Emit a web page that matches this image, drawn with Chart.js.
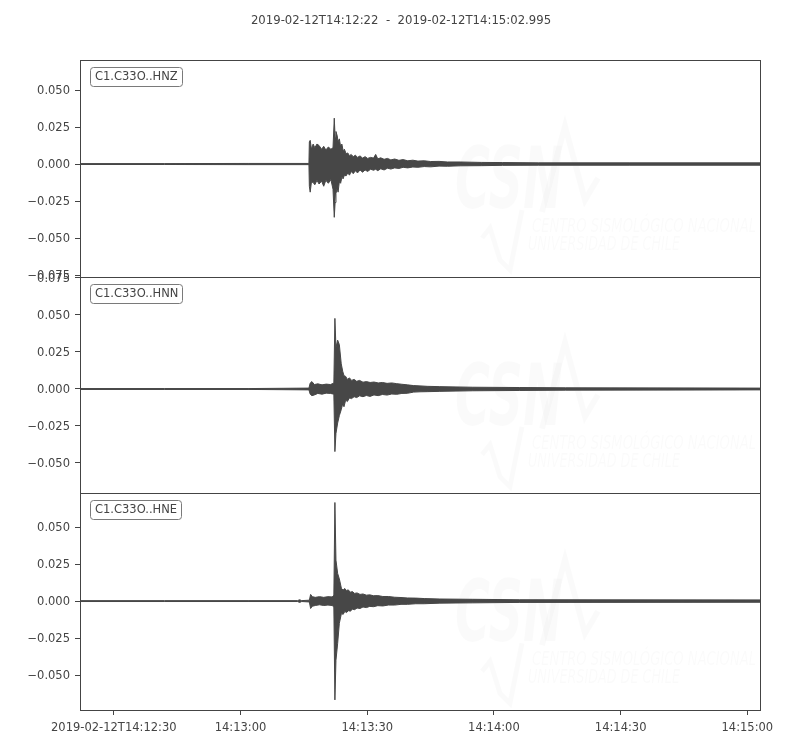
<!DOCTYPE html>
<html><head><meta charset="utf-8">
<script src="https://cdn.jsdelivr.net/npm/chart.js@4/dist/chart.umd.min.js"></script>
<style>html,body{margin:0;padding:0;background:#fff}#wrap{width:800px;height:750px;position:relative}</style>
</head><body><div id="wrap"><canvas id="c" width="800" height="750"></canvas></div>
<script>
// ---- text ----
const titleText = '2019-02-12T14:12:22  -  2019-02-12T14:15:02.995';
const traceNames = ['C1.C33O..HNZ', 'C1.C33O..HNN', 'C1.C33O..HNE'];

// ---- x axis (seconds after 2019-02-12T14:12:22) ----
const timeMin = 0;
const timeMax = 160.995;
const xTickValues = [8, 38, 68, 98, 128, 158];
const xTickLabels = ['2019-02-12T14:12:30', '14:13:00', '14:13:30', '14:14:00', '14:14:30', '14:15:00'];

// ---- y axes ----
const yTicksHNZ = [-0.075, -0.05, -0.025, 0, 0.025, 0.05];
const yTicksHNN = [-0.05, -0.025, 0, 0.025, 0.05, 0.075];
const yTicksHNE = [-0.05, -0.025, 0, 0.025, 0.05];
const yRangeHNZ = [-0.0761, 0.0703];
const yRangeHNN = [-0.0705, 0.0759];
const yRangeHNE = [-0.0736, 0.0728];

// ---- HNZ envelope ----
const hnzTime  = [0, 20, 40, 54.2, 54.3, 54.5, 54.8, 55.2, 55.6, 56.1, 56.6, 57.2, 57.7, 58.2, 58.8, 59.4, 59.9, 60.2, 60.4, 60.6, 60.9, 61.1, 61.4, 61.7, 62.0, 62.3, 62.6, 63.0, 63.4, 63.8, 64.2, 64.7, 65.2, 65.7, 66.3, 66.9, 67.5, 68.1, 68.8, 69.5, 70.0, 70.5, 71.2, 72.0, 72.8, 73.6, 74.5, 75.5, 76.5, 77.6, 78.8, 80.0, 81.5, 83.0, 85.0, 87.0, 90.0, 95.0, 100.0, 108.5, 130, 160.995];
const hnzUpper = [0.0003, 0.0003, 0.0004, 0.0004, 0.0150, 0.0160, 0.0100, 0.0135, 0.0110, 0.0135, 0.0125, 0.0100, 0.0120, 0.0095, 0.0115, 0.0100, 0.0110, 0.0310, 0.0180, 0.0220, 0.0190, 0.0150, 0.0170, 0.0120, 0.0135, 0.0090, 0.0100, 0.0070, 0.0075, 0.0055, 0.0065, 0.0050, 0.0060, 0.0045, 0.0055, 0.0040, 0.0050, 0.0038, 0.0045, 0.0040, 0.0065, 0.0035, 0.0042, 0.0032, 0.0038, 0.0028, 0.0034, 0.0025, 0.0030, 0.0022, 0.0026, 0.0020, 0.0022, 0.0017, 0.0018, 0.0014, 0.0014, 0.0011, 0.0010, 0.0008, 0.0008, 0.0008];
const hnzLower = [-0.0003, -0.0003, -0.0004, -0.0004, -0.0150, -0.0190, -0.0120, -0.0125, -0.0140, -0.0110, -0.0135, -0.0115, -0.0150, -0.0110, -0.0130, -0.0105, -0.0170, -0.0360, -0.0260, -0.0200, -0.0160, -0.0190, -0.0120, -0.0130, -0.0090, -0.0100, -0.0075, -0.0080, -0.0060, -0.0075, -0.0050, -0.0065, -0.0045, -0.0060, -0.0040, -0.0055, -0.0040, -0.0050, -0.0035, -0.0042, -0.0035, -0.0045, -0.0032, -0.0040, -0.0028, -0.0034, -0.0026, -0.0030, -0.0022, -0.0026, -0.0020, -0.0022, -0.0017, -0.0019, -0.0014, -0.0015, -0.0012, -0.0011, -0.0009, -0.0008, -0.0008, -0.0008];

// ---- HNN envelope ----
const hnnTime  = [0, 20, 40, 54.2, 54.5, 54.9, 55.5, 56.3, 57.3, 58.3, 59.3, 60.1, 60.35, 60.6, 61.0, 61.4, 61.85, 62.2, 62.5, 62.9, 63.3, 63.8, 64.3, 64.9, 65.5, 66.2, 67.0, 67.8, 68.7, 69.6, 70.6, 71.6, 72.7, 73.8, 75.0, 76.2, 77.5, 79.0, 80.5, 82.2, 85.2, 93, 104, 115, 160.995];
const hnnUpper = [0.0003, 0.0003, 0.0003, 0.0006, 0.0040, 0.0050, 0.0030, 0.0035, 0.0028, 0.0033, 0.0030, 0.0040, 0.0477, 0.0280, 0.0330, 0.0300, 0.0170, 0.0120, 0.0090, 0.0085, 0.0065, 0.0075, 0.0058, 0.0065, 0.0052, 0.0058, 0.0046, 0.0050, 0.0044, 0.0047, 0.0041, 0.0044, 0.0038, 0.0041, 0.0036, 0.0032, 0.0028, 0.0023, 0.0021, 0.0018, 0.0016, 0.0012, 0.0010, 0.0008, 0.0006];
const hnnLower = [-0.0003, -0.0003, -0.0003, -0.0006, -0.0035, -0.0045, -0.0040, -0.0030, -0.0035, -0.0028, -0.0030, -0.0035, -0.0423, -0.0300, -0.0230, -0.0180, -0.0140, -0.0100, -0.0120, -0.0075, -0.0085, -0.0060, -0.0065, -0.0052, -0.0058, -0.0046, -0.0052, -0.0044, -0.0050, -0.0040, -0.0045, -0.0037, -0.0041, -0.0034, -0.0036, -0.0030, -0.0029, -0.0021, -0.0019, -0.0018, -0.0016, -0.0012, -0.0010, -0.0008, -0.0006];

// ---- HNE envelope ----
const hneTime  = [0, 20, 40, 51.5, 52.0, 52.5, 54.3, 54.6, 55.0, 55.7, 56.7, 57.7, 58.7, 59.7, 60.1, 60.35, 60.6, 61.0, 61.4, 61.9, 62.3, 62.7, 63.1, 63.5, 64.0, 64.5, 65.0, 65.6, 66.3, 67.0, 67.8, 68.6, 69.5, 70.5, 71.7, 73.0, 74.5, 76.0, 77.5, 79.5, 81.5, 85.2, 93, 104, 160.995];
const hneUpper = [0.0003, 0.0003, 0.0003, 0.0003, 0.0009, 0.0003, 0.0006, 0.0045, 0.0030, 0.0025, 0.0030, 0.0025, 0.0030, 0.0028, 0.0040, 0.0666, 0.0277, 0.0187, 0.0150, 0.0085, 0.0075, 0.0085, 0.0070, 0.0076, 0.0060, 0.0064, 0.0052, 0.0055, 0.0045, 0.0048, 0.0040, 0.0042, 0.0036, 0.0037, 0.0031, 0.0031, 0.0026, 0.0024, 0.0021, 0.0020, 0.0017, 0.0014, 0.0012, 0.0009, 0.0008];
const hneLower = [-0.0003, -0.0003, -0.0003, -0.0003, -0.0009, -0.0003, -0.0006, -0.0050, -0.0035, -0.0030, -0.0025, -0.0030, -0.0027, -0.0030, -0.0040, -0.0668, -0.0400, -0.0286, -0.0150, -0.0083, -0.0090, -0.0070, -0.0078, -0.0065, -0.0068, -0.0055, -0.0058, -0.0047, -0.0050, -0.0040, -0.0044, -0.0036, -0.0038, -0.0031, -0.0033, -0.0027, -0.0027, -0.0022, -0.0022, -0.0018, -0.0018, -0.0014, -0.0012, -0.0009, -0.0008];

// ---- styling ----
const traceColor = '#474747';
const textColor = '#444444';
const fontFamily = "'DejaVu Sans', sans-serif";

function pts(t, v) { return t.map((x, i) => ({ x: x, y: v[i] })); }
function bandDatasets(t, up, lo, axis) {
  return [
    { data: pts(t, up), yAxisID: axis, borderColor: traceColor, backgroundColor: traceColor, borderWidth: 1, pointRadius: 0, fill: '+1', tension: 0 },
    { data: pts(t, lo), yAxisID: axis, borderColor: traceColor, backgroundColor: traceColor, borderWidth: 1, pointRadius: 0, fill: false, tension: 0 }
  ];
}
function fmtY(v) {
  const s = Math.abs(v).toFixed(3);
  return v < -1e-9 ? '\u2212' + s : s;
}
function yAxis(range, ticks, weight) {
  return {
    type: 'linear', position: 'left', stack: 'traces', stackWeight: 1, weight: weight,
    min: range[0], max: range[1],
    afterBuildTicks: s => { s.ticks = ticks.map(v => ({ value: v })); },
    afterFit: s => { s.width = 80; },
    border: { display: false },
    grid: { drawOnChartArea: false, drawTicks: true, tickLength: 5, color: textColor, lineWidth: 1 },
    ticks: { color: textColor, padding: 5, labelOffset: 1, font: { family: fontFamily, size: 11.5 }, callback: v => fmtY(v) }
  };
}

const axisIds = ['yHNZ', 'yHNN', 'yHNE'];

const decorPlugin = {
  id: 'decor',
  beforeDatasetsDraw(chart) {
    const ctx = chart.ctx, a = chart.chartArea;
    ctx.save();
    ctx.fillStyle = 'rgba(0,0,0,0.018)';
    ctx.strokeStyle = 'rgba(0,0,0,0.018)';
    axisIds.forEach(id => {
      const top = chart.scales[id].top;
      const L = a.left;
      ctx.save();
      ctx.font = "bold italic 86px " + fontFamily;
      let w = ctx.measureText('CSN').width;
      ctx.translate(L + 375, top + 148);
      ctx.scale(108 / w, 1);
      ctx.fillText('CSN', 0, 0);
      ctx.restore();
      ctx.save();
      ctx.font = "italic 20px " + fontFamily;
      w = ctx.measureText('CENTRO SISMOLÓGICO NACIONAL').width;
      ctx.translate(L + 452, top + 172);
      ctx.scale(224 / w, 1);
      ctx.fillText('CENTRO SISMOLÓGICO NACIONAL', 0, 0);
      ctx.restore();
      ctx.save();
      ctx.font = "italic 20px " + fontFamily;
      w = ctx.measureText('UNIVERSIDAD DE CHILE').width;
      ctx.translate(L + 448, top + 190);
      ctx.scale(152 / w, 1);
      ctx.fillText('UNIVERSIDAD DE CHILE', 0, 0);
      ctx.restore();
      ctx.lineWidth = 6;
      ctx.beginPath();
      ctx.moveTo(L + 462, top + 152); ctx.lineTo(L + 485, top + 66); ctx.lineTo(L + 505, top + 140); ctx.lineTo(L + 518, top + 118);
      ctx.stroke();
      ctx.lineWidth = 5;
      ctx.beginPath();
      ctx.moveTo(L + 402, top + 178); ctx.lineTo(L + 410, top + 168); ctx.lineTo(L + 420, top + 200); ctx.lineTo(L + 430, top + 210); ctx.lineTo(L + 442, top + 150);
      ctx.stroke();
    });
    ctx.restore();
  },
  afterDraw(chart) {
    const ctx = chart.ctx, a = chart.chartArea;
    ctx.save();
    ctx.fillStyle = textColor;
    ctx.font = '11.7px ' + fontFamily;
    ctx.textAlign = 'center';
    ctx.textBaseline = 'middle';
    ctx.fillText(titleText, 401, 21);
    ctx.strokeStyle = textColor;
    ctx.lineWidth = 1;
    const l = Math.round(a.left) + 0.5, r = Math.round(a.right) + 0.5;
    axisIds.forEach((id, i) => {
      const s = chart.scales[id];
      const t = Math.round(s.top) + 0.5, b = Math.round(s.bottom) + 0.5;
      ctx.strokeStyle = textColor;
      ctx.strokeRect(l, t, r - l, b - t);
      ctx.font = '11.5px ' + fontFamily;
      ctx.textAlign = 'left';
      const tw = ctx.measureText(traceNames[i]).width;
      const bx = Math.round(a.left) + 10.5, by = Math.round(s.top) + 7.5, bw = Math.round(tw + 9), bh = 19;
      ctx.beginPath();
      ctx.roundRect(bx, by, bw, bh, 3);
      ctx.fillStyle = '#ffffff';
      ctx.fill();
      ctx.strokeStyle = '#7a7a7a';
      ctx.stroke();
      ctx.fillStyle = textColor;
      ctx.fillText(traceNames[i], bx + 4.5, by + bh / 2 + 0.5);
    });
    ctx.restore();
  }
};

new Chart(document.getElementById('c'), {
  type: 'line',
  data: {
    datasets: [
      ...bandDatasets(hnzTime, hnzUpper, hnzLower, 'yHNZ'),
      ...bandDatasets(hnnTime, hnnUpper, hnnLower, 'yHNN'),
      ...bandDatasets(hneTime, hneUpper, hneLower, 'yHNE')
    ]
  },
  options: {
    responsive: false,
    animation: false,
    devicePixelRatio: 1,
    layout: { padding: { left: 0, right: 40, top: 60, bottom: 0 } },
    plugins: { legend: { display: false }, tooltip: { enabled: false }, title: { display: false } },
    scales: {
      x: {
        type: 'linear', position: 'bottom', min: timeMin, max: timeMax,
        afterBuildTicks: s => { s.ticks = xTickValues.map(v => ({ value: v })); },
        afterFit: s => { s.height = 40; },
        border: { display: false },
        grid: { drawOnChartArea: false, drawTicks: true, tickLength: 5, color: textColor },
        ticks: {
          color: textColor, padding: 6, maxRotation: 0, autoSkip: false,
          font: { family: fontFamily, size: 11.5 },
          callback: v => { const i = xTickValues.indexOf(v); return i >= 0 ? xTickLabels[i] : ''; }
        }
      },
      yHNZ: yAxis(yRangeHNZ, yTicksHNZ, 3),
      yHNN: yAxis(yRangeHNN, yTicksHNN, 2),
      yHNE: yAxis(yRangeHNE, yTicksHNE, 1)
    }
  },
  plugins: [decorPlugin]
});
</script>
</body></html>
